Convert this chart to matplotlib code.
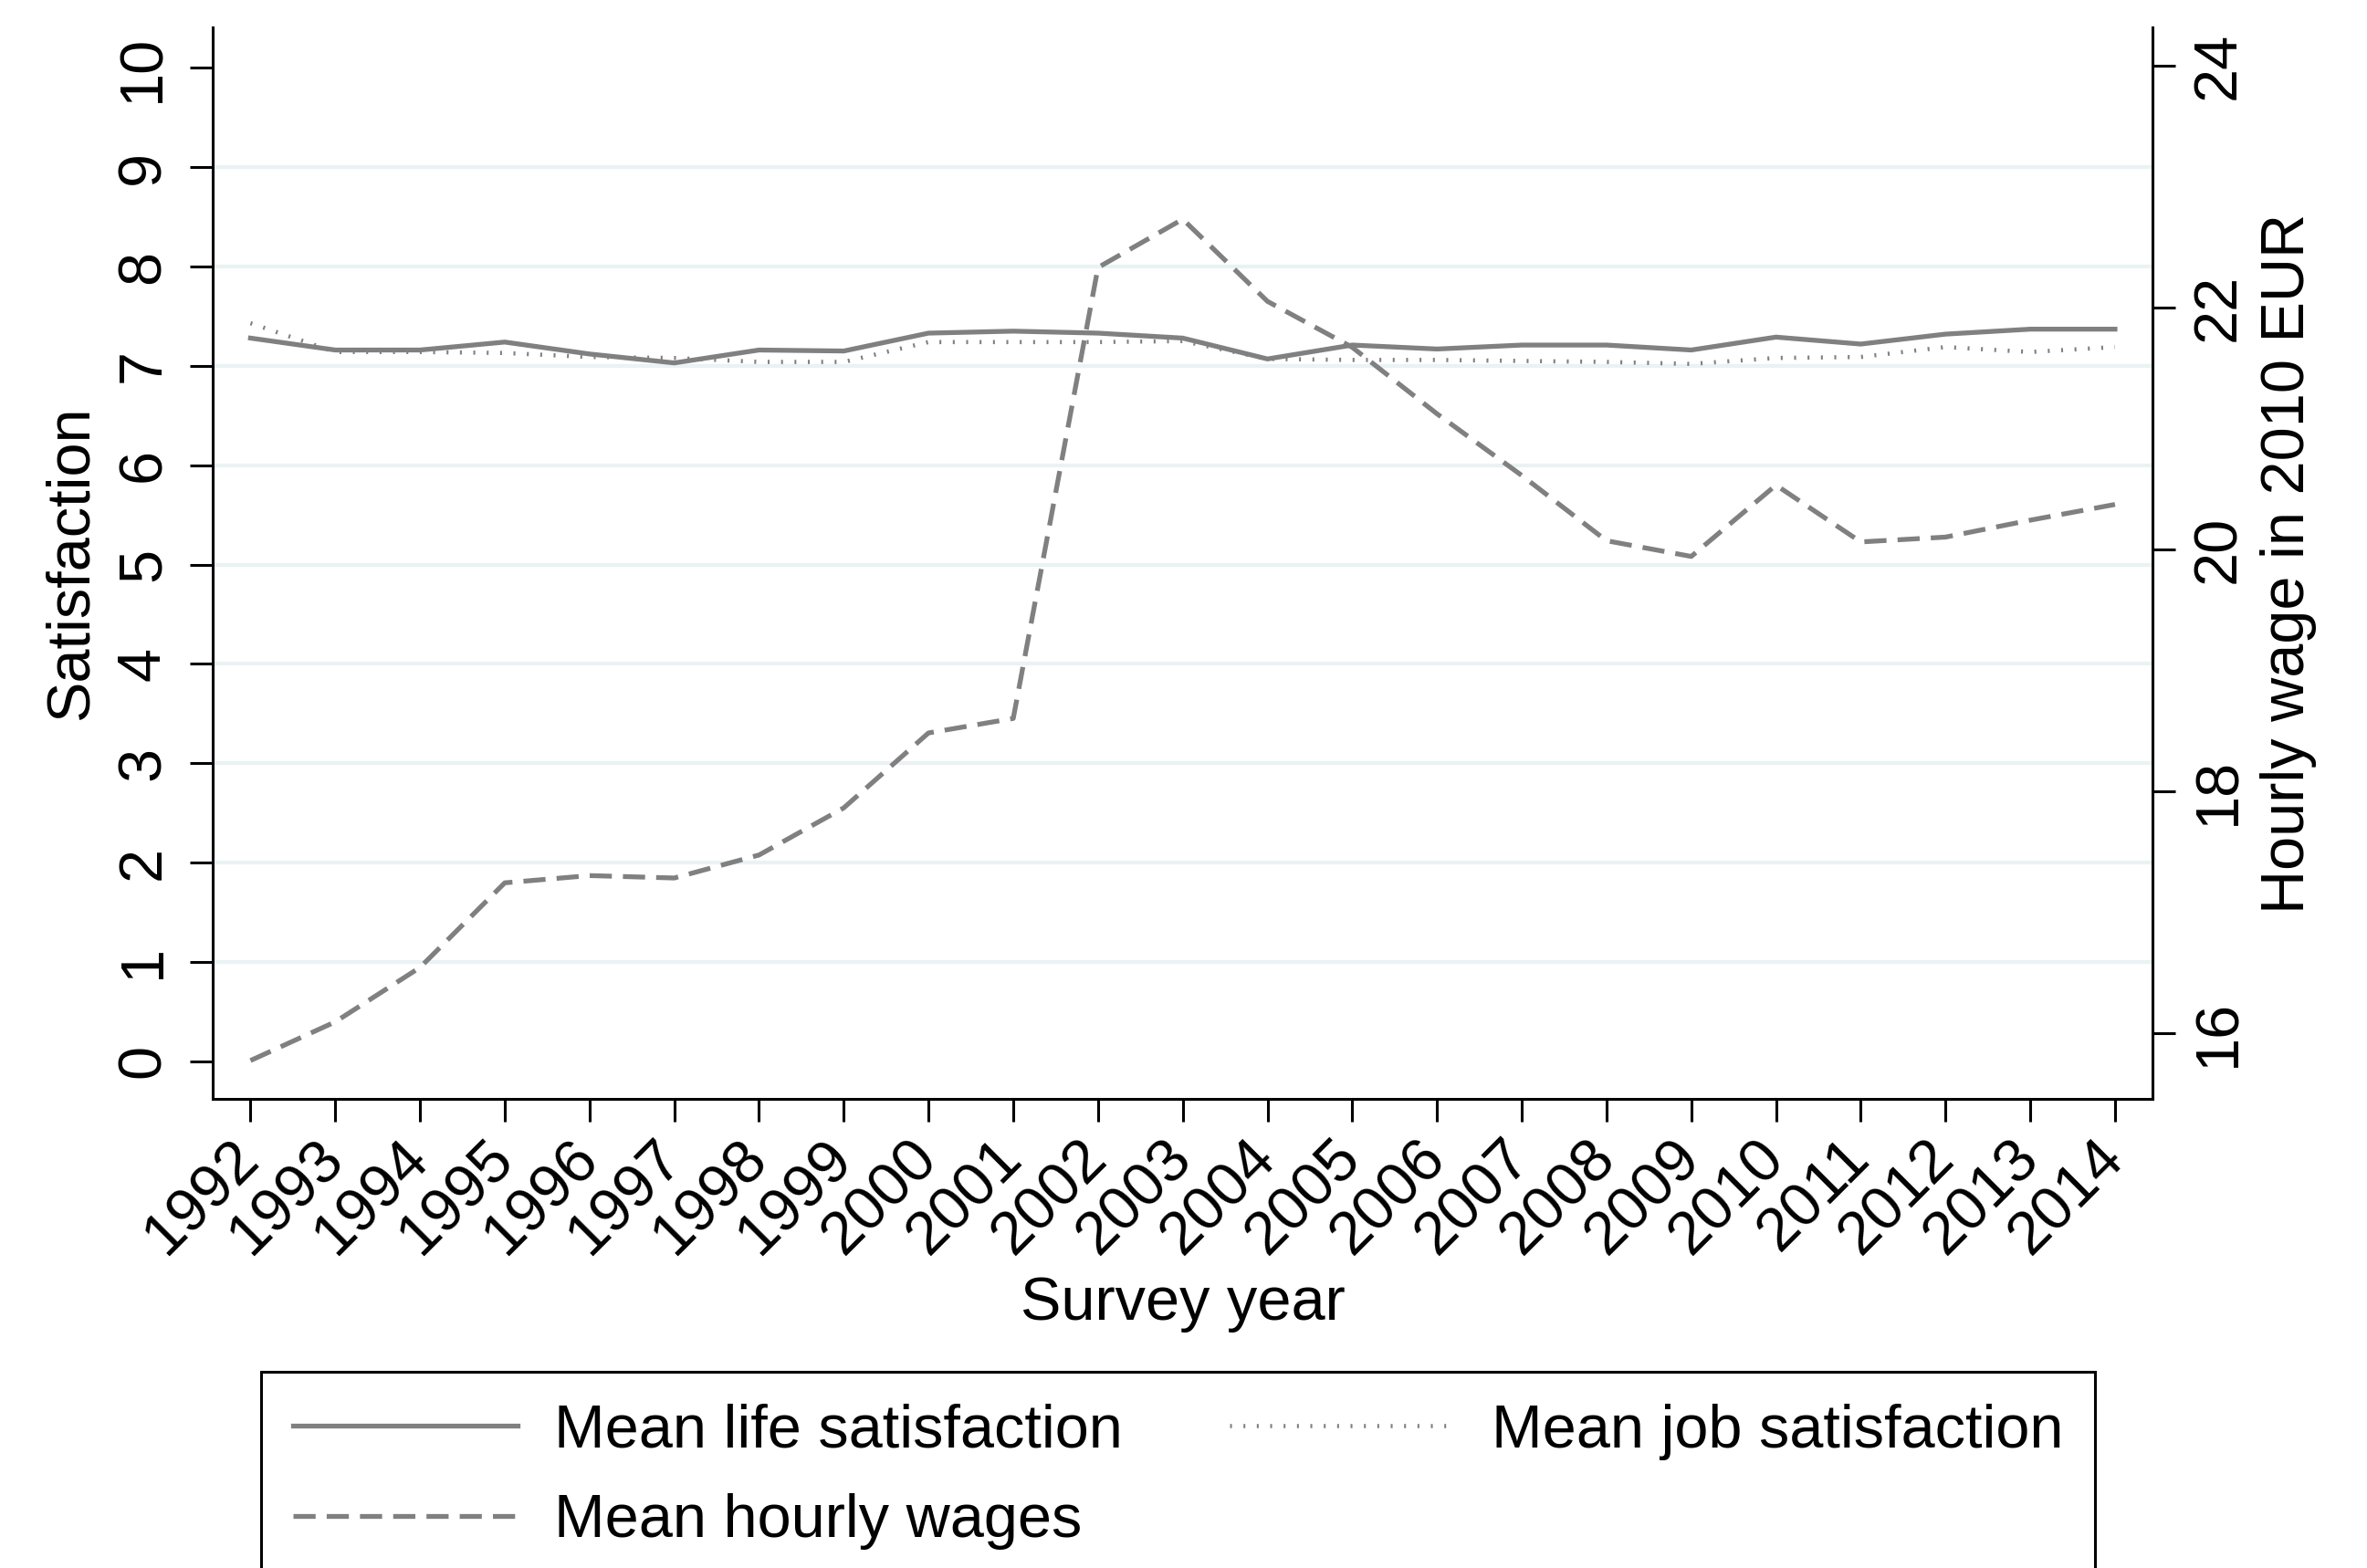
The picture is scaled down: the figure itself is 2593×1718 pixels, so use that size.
import matplotlib
matplotlib.use("Agg")
import matplotlib.pyplot as plt

plt.rcParams['font.family'] = ['Liberation Sans', 'DejaVu Sans']

years = list(range(1992, 2015))
life_sat = [7.28, 7.16, 7.16, 7.24, 7.12, 7.03, 7.16, 7.15, 7.33, 7.35, 7.33, 7.28,
            7.07, 7.21, 7.17, 7.21, 7.21, 7.16, 7.29, 7.22, 7.32, 7.37, 7.37]
job_sat = [7.43, 7.14, 7.14, 7.13, 7.09, 7.08, 7.04, 7.04, 7.24, 7.24, 7.24, 7.25,
           7.07, 7.06, 7.06, 7.05, 7.04, 7.02, 7.08, 7.09, 7.19, 7.14, 7.19]
wages = [15.77, 16.09, 16.54, 17.24, 17.30, 17.28, 17.47, 17.86, 18.48, 18.60, 22.33, 22.73,
         22.05, 21.67, 21.12, 20.61, 20.07, 19.94, 20.53, 20.06, 20.10, 20.24, 20.37]
left_ticks = list(range(0, 11))
right_ticks = [16, 18, 20, 22, 24]

GRAY = '#808080'
FS = 48

fig = plt.figure(figsize=(25.93, 17.18), dpi=100)
ax = fig.add_axes([0.0899, 0.2992, 0.8196, 0.6833])
ax2 = ax.twinx()

l1, = ax.plot(years, life_sat, color=GRAY, lw=3.8, solid_joinstyle='miter', zorder=3,
              label='Mean life satisfaction')
l2, = ax.plot(years, job_sat, color=GRAY, lw=3.3, linestyle=(0, (0.45, 2.75)),
              dash_capstyle='butt', zorder=3, label='Mean job satisfaction')
l3, = ax2.plot(years, wages, color=GRAY, lw=3.8, linestyle=(0, (4.6, 2.3)),
               dash_capstyle='butt', zorder=3, label='Mean hourly wages')

ax.set_xlim(1991.555, 2014.446)
ax.set_ylim(-0.380, 10.408)
ax2.set_ylim(15.453, 24.316)

ax.set_xticks(years)
ax.set_xticklabels([str(y) for y in years], rotation=45, ha='right', va='center',
                   rotation_mode='anchor', fontsize=FS)
ax.set_yticks(left_ticks)
ax.set_yticklabels([str(t) for t in left_ticks], rotation=90, va='center', fontsize=FS)
ax2.set_yticks(right_ticks)
ax2.set_yticklabels([str(t) for t in right_ticks], rotation=90, va='center', fontsize=FS)

ax.yaxis.grid(True, color='#EAF2F3', lw=3)
ax.set_axisbelow(True)
gls = ax.get_ygridlines()
gls[0].set_visible(False)
gls[-1].set_visible(False)

for a in (ax, ax2):
    a.spines['top'].set_visible(False)
    for s in ('left', 'right', 'bottom'):
        a.spines[s].set_linewidth(2.2)
ax.spines['right'].set_visible(False)
ax2.spines['left'].set_visible(False)
ax2.spines['bottom'].set_visible(False)

ax.tick_params(axis='x', length=18, width=2.2, pad=22)
ax.tick_params(axis='y', length=18, width=2.2, pad=14)
ax2.tick_params(axis='y', length=18, width=2.2, pad=12)

ax.set_xlabel('Survey year', fontsize=FS, labelpad=8)
ax.set_ylabel('Satisfaction', fontsize=FS, labelpad=12)
ax2.set_ylabel('Hourly wage in 2010 EUR', fontsize=FS, labelpad=10)

leg = fig.legend([l1, l3, l2], ['Mean life satisfaction', 'Mean hourly wages', 'Mean job satisfaction'],
                 ncol=2, loc='upper left', bbox_to_anchor=(0.1103, 0.1251), fontsize=FS,
                 handlelength=3.7, handletextpad=0.6, columnspacing=1.75, borderpad=0.52,
                 labelspacing=0.55, borderaxespad=0, fancybox=False, framealpha=1,
                 edgecolor='black')
leg.get_frame().set_linewidth(2.2)

fig.savefig('out.png', dpi=100, facecolor='white')
